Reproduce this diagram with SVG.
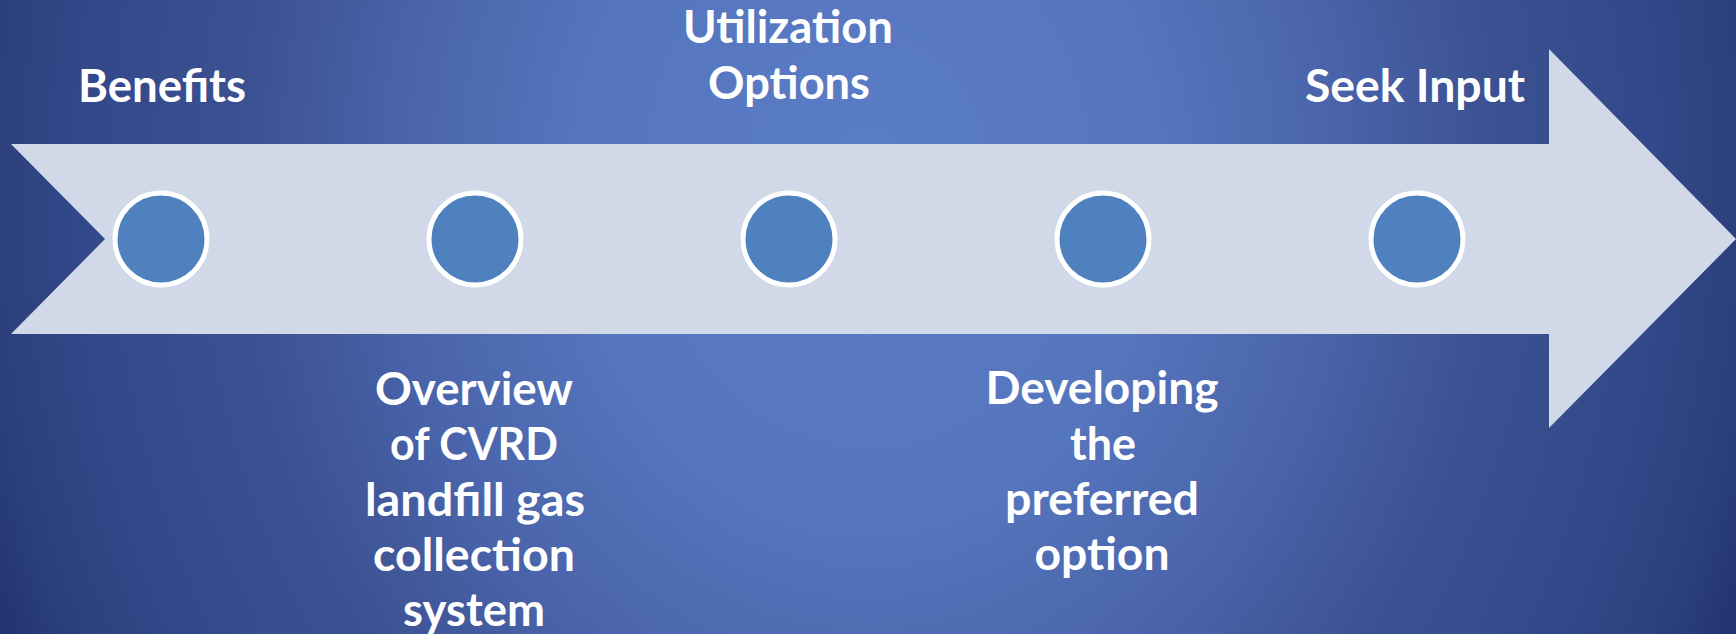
<svg xmlns="http://www.w3.org/2000/svg" width="1736" height="634" viewBox="0 0 1736 634">
  <defs>
    <!-- soft light centre fading to deep navy towards the corners -->
    <radialGradient id="bg" gradientUnits="userSpaceOnUse" cx="0" cy="0" r="1"
                    gradientTransform="translate(868 180) scale(960 1150)">
      <stop offset="0" stop-color="#5b7dc7"/>
      <stop offset="0.3" stop-color="#5575bd"/>
      <stop offset="0.5" stop-color="#4963a9"/>
      <stop offset="0.65" stop-color="#3b5191"/>
      <stop offset="0.82" stop-color="#33488a"/>
      <stop offset="0.92" stop-color="#2b3f7a"/>
      <stop offset="1" stop-color="#1f316c"/>
    </radialGradient>
    <style>
      .arrow { fill: #d1d8e7; }
      .dot { fill: #4e81bd; stroke: #ffffff; stroke-width: 5; }
      .label { font-family: "Lato", "Liberation Sans", sans-serif; font-weight: bold; font-size: 45px; fill: #ffffff; text-anchor: middle; }
    </style>
  </defs>

  <rect x="0" y="0" width="1736" height="634" fill="url(#bg)"/>

  <!-- timeline arrow -->
  <g id="connectors">
    <polygon class="arrow" points="11,144 1549,144 1549,49 1736,239 1549,428 1549,334 11,334 105,239"/>
  </g>

  <g id="benefits">
    <circle class="dot" cx="161" cy="239" r="46"/>
    <text class="label" x="162" y="102" textLength="168" lengthAdjust="spacingAndGlyphs">Benefits</text>
  </g>

  <g id="overview">
    <circle class="dot" cx="475" cy="239" r="46"/>
    <text class="label" x="474" y="405" textLength="198" lengthAdjust="spacingAndGlyphs">Overview</text>
    <text class="label" x="474" y="460" textLength="168" lengthAdjust="spacingAndGlyphs">of CVRD</text>
    <text class="label" x="475" y="516" textLength="220" lengthAdjust="spacingAndGlyphs">landfill gas</text>
    <text class="label" x="474" y="571" textLength="202" lengthAdjust="spacingAndGlyphs">collection</text>
    <text class="label" x="474" y="626" textLength="142" lengthAdjust="spacingAndGlyphs">system</text>
  </g>

  <g id="utilization">
    <circle class="dot" cx="789" cy="239" r="46"/>
    <text class="label" x="788" y="43" textLength="210" lengthAdjust="spacingAndGlyphs">Utilization</text>
    <text class="label" x="789" y="99" textLength="162" lengthAdjust="spacingAndGlyphs">Options</text>
  </g>

  <g id="developing">
    <circle class="dot" cx="1103" cy="239" r="46"/>
    <text class="label" x="1102" y="404" textLength="233" lengthAdjust="spacingAndGlyphs">Developing</text>
    <text class="label" x="1103" y="460" textLength="66" lengthAdjust="spacingAndGlyphs">the</text>
    <text class="label" x="1102" y="515" textLength="194" lengthAdjust="spacingAndGlyphs">preferred</text>
    <text class="label" x="1102" y="570" textLength="135" lengthAdjust="spacingAndGlyphs">option</text>
  </g>

  <g id="seek-input">
    <circle class="dot" cx="1417" cy="239" r="46"/>
    <text class="label" x="1415" y="102" textLength="220" lengthAdjust="spacingAndGlyphs">Seek Input</text>
  </g>
</svg>
